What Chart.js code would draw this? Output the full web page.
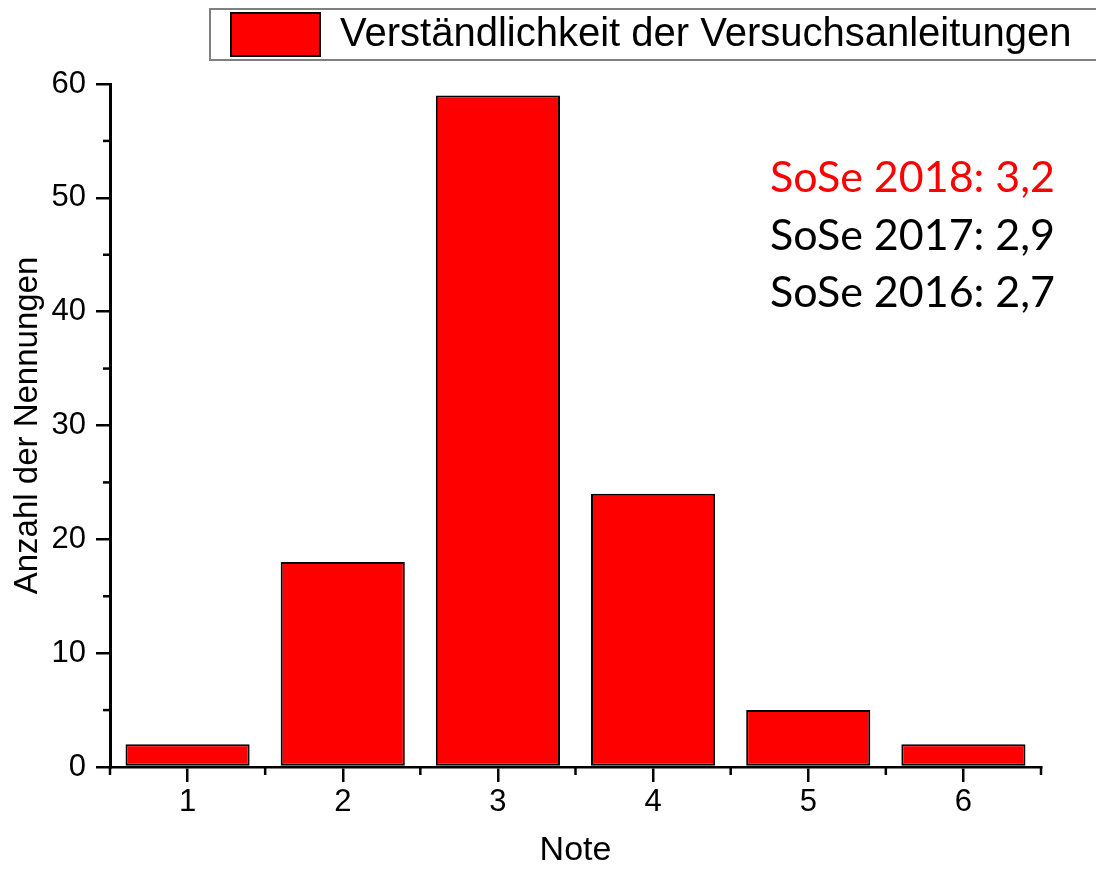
<!DOCTYPE html>
<html>
<head>
<meta charset="utf-8">
<script src="https://cdn.jsdelivr.net/npm/chart.js@4.4.0/dist/chart.umd.min.js"></script>
<style>
html,body{margin:0;padding:0;background:#fff;}
#wrap{width:1096px;height:872px;}
canvas{display:block;}
</style>
</head>
<body>
<div id="wrap"><canvas id="c" width="1096" height="872"></canvas></div>
<script>
// ---- data ----
const categories = ['1', '2', '3', '4', '5', '6'];
const counts = [2, 18, 59, 24, 5, 2];
const seriesLabel = 'Verständlichkeit der Versuchsanleitungen';
const yMinorTicks = [5, 15, 25, 35, 45, 55];
const notes = ['SoSe 2018: 3,2', 'SoSe 2017: 2,9', 'SoSe 2016: 2,7'];
const noteColors = ['#ff0000', '#000000', '#000000'];
const xTitle = 'Note';
const yTitle = 'Anzahl der Nennungen';

const FONT = "'Liberation Sans', Arial, sans-serif";

const decorPlugin = {
  id: 'decor',
  afterLayout(chart, args, opts) {
    const lg = chart.legend;
    if (lg) {
      const h = lg.height;
      lg.left = opts.legendLeft;
      lg.right = opts.legendRight;
      lg.top = opts.legendTop;
      lg.bottom = lg.top + h;
    }
  },
  afterDraw(chart, args, opts) {
    const ctx = chart.ctx;
    const xs = chart.scales.x, ys = chart.scales.y;
    ctx.save();
    ctx.strokeStyle = '#000';
    ctx.lineWidth = 2.5;
    // minor ticks on y axis
    yMinorTicks.forEach(v => {
      const py = ys.getPixelForValue(v);
      ctx.beginPath();
      ctx.moveTo(ys.right - opts.yMinorLen, py);
      ctx.lineTo(ys.right, py);
      ctx.stroke();
    });
    // minor ticks on x axis at category boundaries
    for (let i = 0; i <= categories.length; i++) {
      const px = xs.getPixelForValue(i - 0.5);
      ctx.beginPath();
      ctx.moveTo(px, xs.top);
      ctx.lineTo(px, xs.top + opts.xMinorLen);
      ctx.stroke();
    }
    // legend frame
    const lg = chart.legend;
    if (lg && lg.legendHitBoxes && lg.legendHitBoxes.length) {
      const hb = lg.legendHitBoxes[0];
      ctx.strokeStyle = '#808080';
      ctx.lineWidth = 2;
      const l = hb.left - opts.frameGapX, t = hb.top - opts.frameGapY;
      const b = hb.top + hb.height + opts.frameGapY;
      ctx.strokeRect(l, t, chart.width + 20 - l, b - t);
    }
    // notes text
    ctx.font = opts.noteFont;
    ctx.textBaseline = 'alphabetic';
    ctx.textAlign = 'left';
    notes.forEach((t, i) => {
      ctx.fillStyle = noteColors[i];
      ctx.fillText(t, opts.noteX, opts.noteY + i * opts.noteGap);
    });
    ctx.restore();
  }
};

new Chart(document.getElementById('c'), {
  type: 'bar',
  data: {
    labels: categories,
    datasets: [{
      label: seriesLabel,
      data: counts,
      backgroundColor: '#ff0000',
      borderColor: '#000000',
      borderWidth: 2,
      borderSkipped: false,
      barPercentage: 0.8,
      categoryPercentage: 1.0
    }]
  },
  options: {
    responsive: false,
    animation: false,
    devicePixelRatio: 1,
    layout: { padding: { left: 0, right: 55, top: 18, bottom: 0 } },
    plugins: {
      legend: {
        display: true,
        position: 'top',
        align: 'start',
        labels: {
          boxWidth: 89,
          boxHeight: 43,
          padding: 13,
          color: '#000',
          font: { family: FONT, size: 40 }
        }
      },
      tooltip: { enabled: false },
      decor: {
        legendLeft: 218, legendRight: 3000, legendTop: 0,
        frameGapX: 21, frameGapY: 4,
        yMinorLen: 7, xMinorLen: 8,
        noteFont: "43px Lato, 'Open Sans', sans-serif",
        noteX: 770, noteY: 192, noteGap: 57.5
      }
    },
    scales: {
      x: {
        type: 'category',
        offset: true,
        grid: {
          display: true, drawOnChartArea: false, drawTicks: true,
          tickLength: 15, offset: false, color: '#000', lineWidth: 2.5
        },
        border: { display: true, color: '#000', width: 2.5 },
        ticks: { color: '#000', font: { family: FONT, size: 31 }, padding: 2, maxRotation: 0 },
        title: {
          display: true, text: xTitle, color: '#000',
          font: { family: FONT, size: 34 }, padding: { top: 0, bottom: 1 }
        },
        afterFit(s) { s.height = 105; }
      },
      y: {
        min: 0, max: 60,
        ticks: { stepSize: 10, color: '#000', font: { family: FONT, size: 31 }, padding: 10 },
        grid: {
          display: true, drawOnChartArea: false, drawTicks: true,
          tickLength: 14, color: '#000', lineWidth: 2.5
        },
        border: { display: true, color: '#000', width: 3 },
        title: {
          display: true, text: yTitle, color: '#000',
          font: { family: FONT, size: 33 }, padding: { top: 8, bottom: 0 }
        },
        afterFit(s) { s.width = 110; }
      }
    }
  },
  plugins: [decorPlugin]
});
</script>
</body>
</html>
